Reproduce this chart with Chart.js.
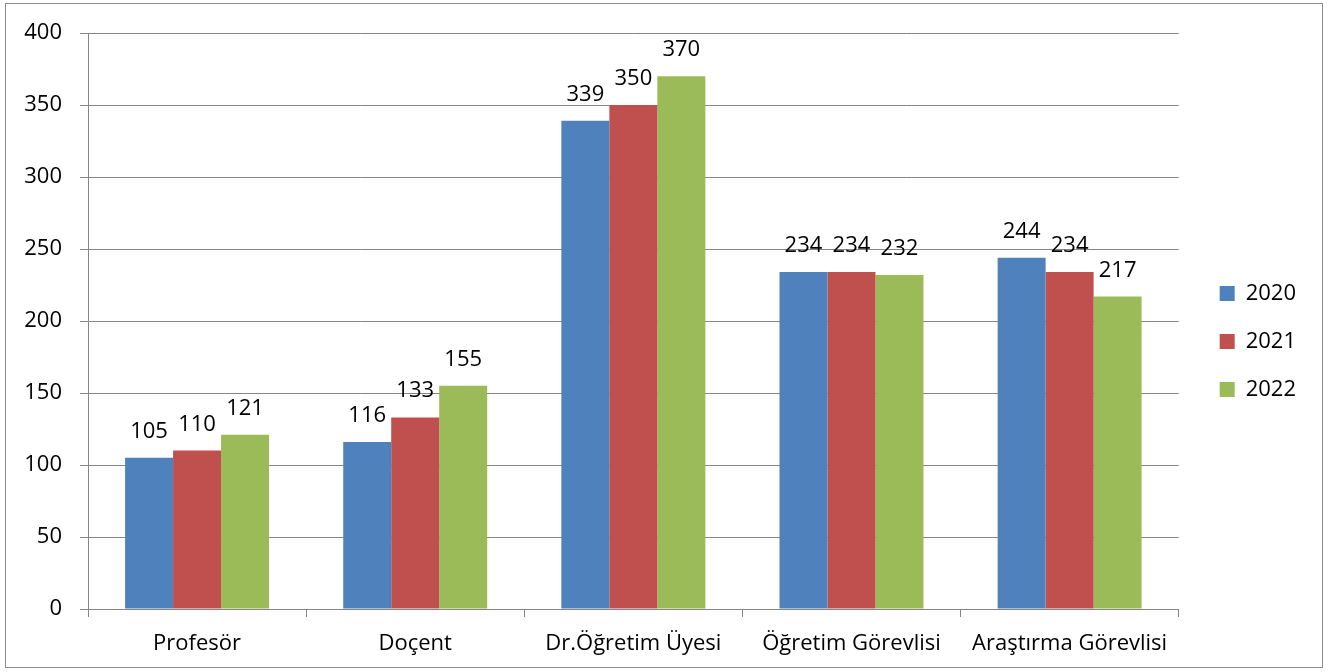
<!DOCTYPE html>
<html>
<head>
<meta charset="utf-8">
<script src="https://cdn.jsdelivr.net/npm/chart.js@4.4.0/dist/chart.umd.min.js"></script>
<style>
html,body{margin:0;padding:0;background:#fff;}
canvas{display:block;}
</style>
</head>
<body>
<canvas id="c" width="1332" height="672"></canvas>
<script>
const categories = ["Profesör", "Doçent", "Dr.Öğretim Üyesi", "Öğretim Görevlisi", "Araştırma Görevlisi"];
const seriesNames = ["2020", "2021", "2022"];
const values2020 = [105, 116, 339, 234, 244];
const values2021 = [110, 133, 350, 234, 234];
const values2022 = [121, 155, 370, 232, 217];
const yTicks = [0, 50, 100, 150, 200, 250, 300, 350, 400];
const colors = ["#4F81BD", "#C0504D", "#9BBB59"];

const FONT = "'Open Sans', 'Noto Sans', sans-serif";
const FS = 22;

const labelPlugin = {
  id: 'valueLabels',
  afterDatasetsDraw(chart) {
    const ctx = chart.ctx;
    ctx.save();
    ctx.font = FS + "px " + FONT;
    ctx.fillStyle = "#000";
    ctx.textAlign = "center";
    ctx.textBaseline = "alphabetic";
    chart.data.datasets.forEach((ds, di) => {
      const meta = chart.getDatasetMeta(di);
      meta.data.forEach((bar, i) => {
        ctx.fillText(String(ds.data[i]), bar.x, bar.y - 20);
      });
    });
    ctx.restore();
  }
};

const borderPlugin = {
  id: 'outerBorder',
  afterLayout(chart) {
    if (chart.legend) {
      chart.legend.top -= 11; chart.legend.bottom -= 11;
      chart.legend.left += 15; chart.legend.right += 15;
    }
  },
  afterDraw(chart) {
    const ctx = chart.ctx;
    ctx.save();
    ctx.strokeStyle = "#8c8c8c";
    ctx.lineWidth = 1;
    ctx.strokeRect(5.5, 3.5, 1317, 664);
    ctx.restore();
  }
};

new Chart(document.getElementById('c'), {
  type: 'bar',
  data: {
    labels: categories,
    datasets: [
      { label: seriesNames[0], data: values2020, backgroundColor: colors[0] },
      { label: seriesNames[1], data: values2021, backgroundColor: colors[1] },
      { label: seriesNames[2], data: values2022, backgroundColor: colors[2] }
    ]
  },
  options: {
    responsive: false,
    animation: false,
    devicePixelRatio: 1,
    layout: { padding: { top: 33, left: 0, right: 41, bottom: 0 } },
    datasets: { bar: { categoryPercentage: 0.66, barPercentage: 1.0 } },
    plugins: {
      legend: {
        position: 'right',
        labels: {
          font: { family: FONT, size: FS },
          color: "#000",
          boxWidth: 15,
          boxHeight: 15,
          padding: 26
        }
      },
      tooltip: { enabled: false }
    },
    scales: {
      x: {
        afterFit(scale) { scale.height = 63; },
        grid: { display: true, drawOnChartArea: false, drawTicks: true, tickLength: 8, color: "#868686", offset: true },
        border: { display: true, color: "#868686", width: 1 },
        ticks: { font: { family: FONT, size: FS }, color: "#000", padding: 14, maxRotation: 0 }
      },
      y: {
        min: 0, max: 400,
        afterFit(scale) { scale.width = 88; },
        afterBuildTicks(scale) { scale.ticks = yTicks.map(v => ({ value: v })); },
        grid: { color: "#868686", drawTicks: true, tickLength: 8 },
        border: { display: true, color: "#868686", width: 1 },
        ticks: { font: { family: FONT, size: FS }, color: "#000", padding: 18 }
      }
    }
  },
  plugins: [labelPlugin, borderPlugin]
});
</script>
</body>
</html>
